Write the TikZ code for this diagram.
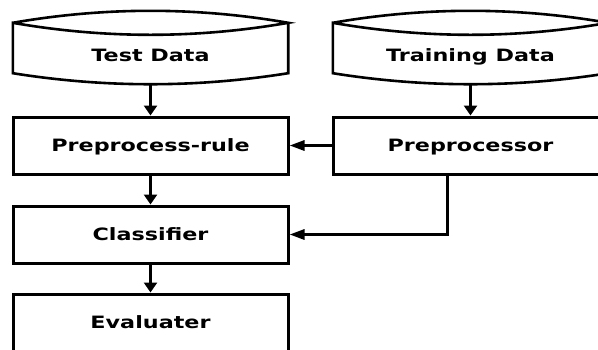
\documentclass[tikz,border=0pt]{standalone}
\usepackage{fontspec}
\setmainfont{DejaVu Sans}[FakeStretch=1.31]
\usetikzlibrary{positioning,arrows.meta,calc}

\tikzset{
  every node/.style={font=\fontsize{17}{20}\selectfont\bfseries},
  stepbox/.style={draw,line width=3pt,minimum width=275pt,minimum height=57pt,
    text height=12.4pt,text depth=0pt,inner sep=0pt},
  datashape/.style={minimum width=275pt,minimum height=73pt,
    text height=27pt,text depth=0pt,inner sep=0pt},
  dataline/.style={line width=2.6pt,line join=miter},
  vflow/.style={line width=3.5pt,-{Triangle[length=10pt,width=13pt]}},
  hflow/.style={line width=3pt,-{Triangle[length=15pt,width=10pt]}}
}

\begin{document}
\begin{tikzpicture}[x=1pt,y=1pt]
\path[use as bounding box,clip] (0,0) rectangle (598,-349);

% data sources
\node[datashape] (test)  at (150.5,-47.5) {Test Data};
\node[datashape] (train) at (470.5,-47.5) {Training Data};
\draw[dataline] ([yshift=-12pt]test.north west) .. controls +(92,16) and +(-92,16) .. ([yshift=-12pt]test.north east)
  .. controls +(-92,-16) and +(92,-16) .. ([yshift=-12pt]test.north west) -- ([yshift=11pt]test.south west)
  .. controls +(92,-14.7) and +(-92,-14.7) .. ([yshift=11pt]test.south east) -- ([yshift=-12pt]test.north east);
\draw[dataline] ([yshift=-12pt]train.north west) .. controls +(92,16) and +(-92,16) .. ([yshift=-12pt]train.north east)
  .. controls +(-92,-16) and +(92,-16) .. ([yshift=-12pt]train.north west) -- ([yshift=11pt]train.south west)
  .. controls +(92,-14.7) and +(-92,-14.7) .. ([yshift=11pt]train.south east) -- ([yshift=-12pt]train.north east);

% process boxes
\node[stepbox] (rule) at (150.5,-145.5) {Preprocess-rule};
\node[stepbox] (prep) at (470.5,-145.5) {Preprocessor};
\node[stepbox] (clf)  at (150.5,-234.5) {Classifier};
\node[stepbox] (eval) at (150.5,-322.5) {Evaluater};

% connectors
\draw[vflow] (test) -- (rule);
\draw[vflow] (train) -- (prep);
\draw[hflow] (prep) -- (rule);
\draw[vflow] (rule) -- (clf);
\draw[hflow] ([xshift=-23.5pt]prep.south) |- (clf.east);
\draw[vflow] (clf) -- (eval);
\end{tikzpicture}
\end{document}
